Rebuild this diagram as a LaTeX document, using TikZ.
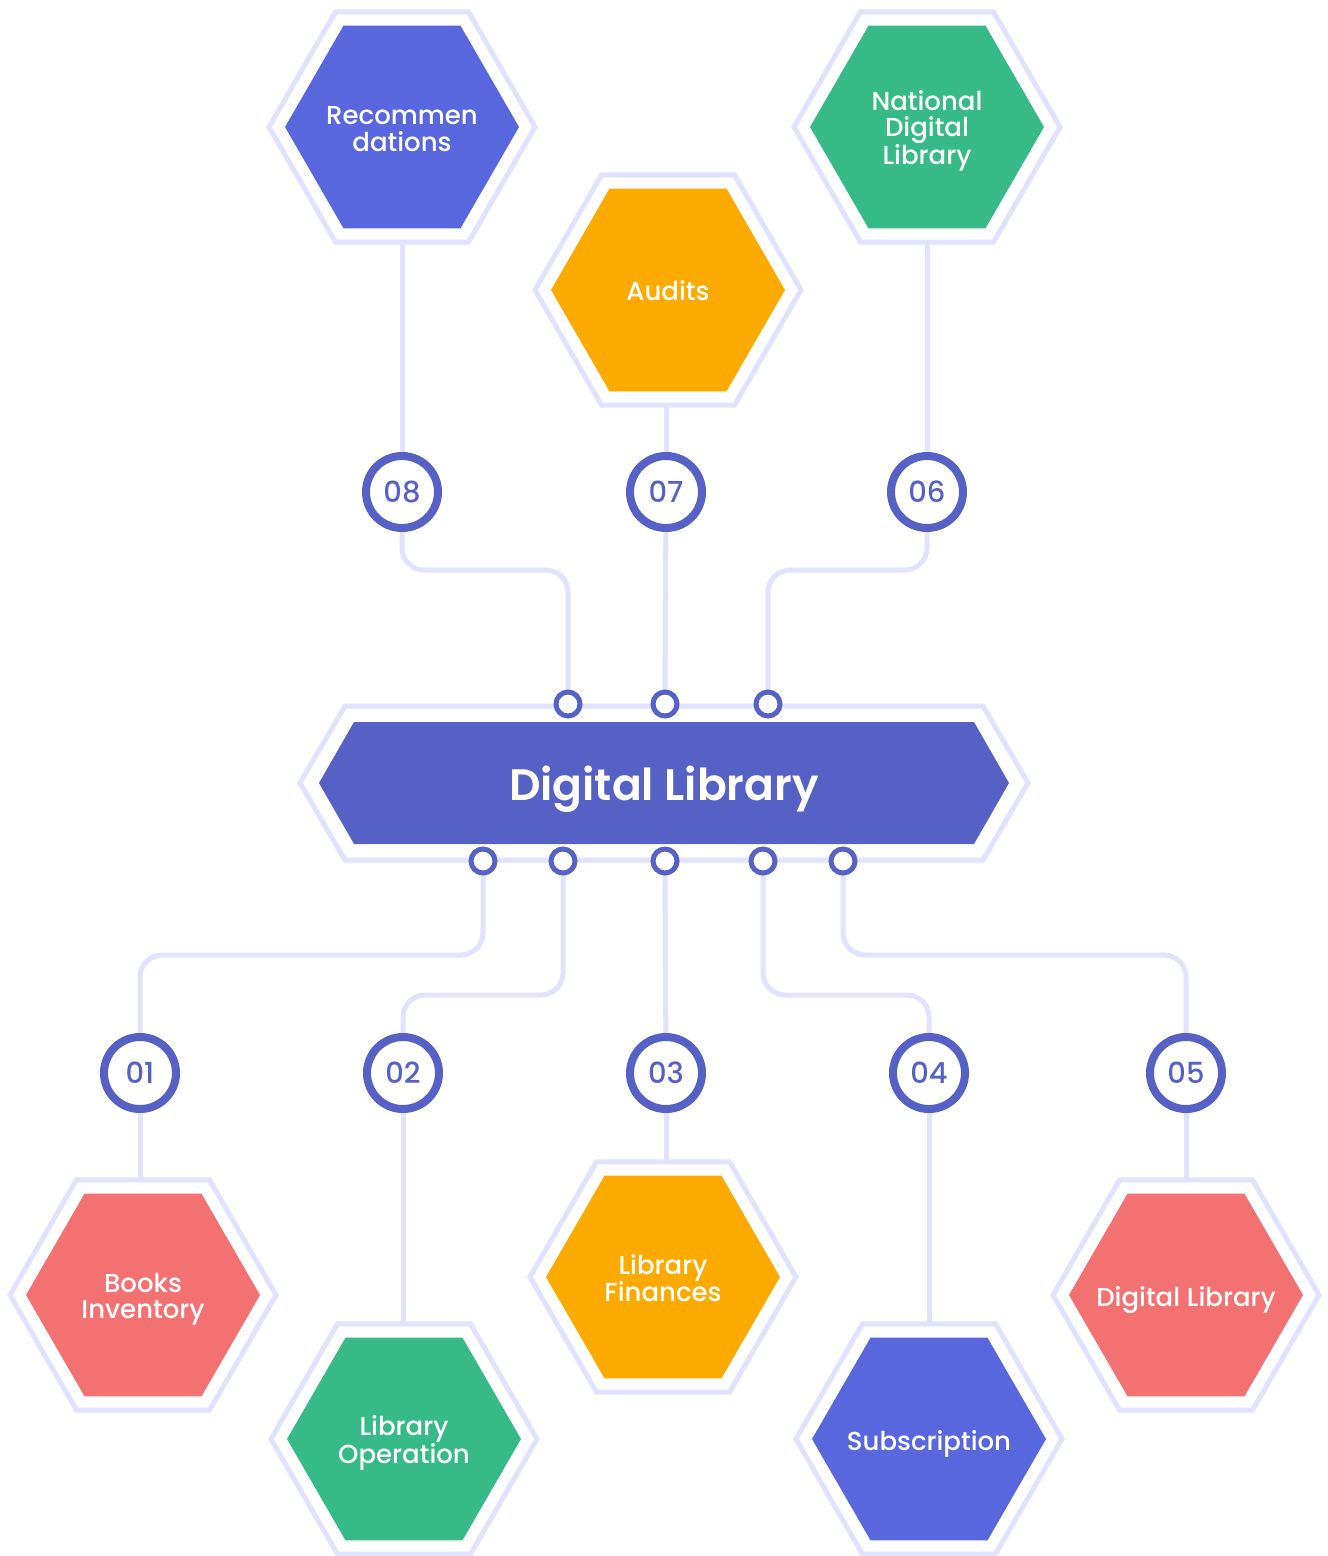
\documentclass[tikz,border=0pt]{standalone}
\usepackage{fontspec}
\setmainfont{Poppins}
\newfontfamily\popmed{Poppins Medium}
\newfontfamily\popsb{Poppins SemiBold}
\usetikzlibrary{shapes.geometric}
\definecolor{hexblue}{HTML}{5867DD}
\definecolor{mainblue}{HTML}{5561C4}
\definecolor{hexgreen}{HTML}{36BA87}
\definecolor{hexorange}{HTML}{FCAA00}
\definecolor{hexpink}{HTML}{F37171}
\definecolor{lav}{HTML}{E1E2FD}
\pgfdeclarelayer{bg}
\pgfsetlayers{bg,main}
\tikzset{
  hexout/.style={regular polygon, regular polygon sides=6, minimum size=266pt, inner sep=0pt, outer sep=0pt, draw=lav, line width=5pt, fill=white},
  hexin/.style={regular polygon, regular polygon sides=6, minimum size=234pt, inner sep=0pt, outer sep=0pt, fill=#1},
  hextext/.style={text=white, align=center, inner sep=0pt, font=\popmed\fontsize{26}{26.5}\selectfont},
  numc/.style={circle, minimum size=72pt, inner sep=0pt, outer sep=0pt, draw=mainblue, line width=8pt, fill=white, text=mainblue, font=\popmed\fontsize{29}{30}\selectfont},
  dotc/.style={circle, minimum size=24pt, inner sep=0pt, outer sep=0pt, draw=mainblue, line width=5pt, fill=white},
  conn/.style={draw=lav, line width=5pt, rounded corners=22pt},
}
\begin{document}
\begin{tikzpicture}[x=1pt,y=-1pt]
\useasboundingbox (0,0) rectangle (1328,1556);
% main node
\fill[white] (300,783) -- (345,706) -- (983,706) -- (1028,783) -- (983,860) -- (345,860) -- cycle;
\draw[lav, line width=5pt] (300,783) -- (345,706) -- (983,706) -- (1028,783) -- (983,860) -- (345,860) -- cycle;
\fill[mainblue] (319,783) -- (354,722) -- (974,722) -- (1009,783) -- (974,844) -- (354,844) -- cycle;
\node[text=white, font=\popsb\fontsize{44}{46}\selectfont] (main) at (664,789) {Digital Library};
% top hexagons
\node[hexout] (rec-o) at (402,127) {};
\node[hexin=hexblue] (rec) at (402,127) {};
\node[hextext] (rec-t) at (402,129) {Recommen\\dations};
\node[hexout] (aud-o) at (668,290) {};
\node[hexin=hexorange] (aud) at (668,290) {};
\node[hextext] (aud-t) at (668,291) {Audits};
\node[hexout] (nat-o) at (927,127) {};
\node[hexin=hexgreen] (nat) at (927,127) {};
\node[hextext] (nat-t) at (927,131) {National\\Digital\\Library};
% bottom hexagons
\node[hexout] (bk-o) at (143,1295) {};
\node[hexin=hexpink] (bk) at (143,1295) {};
\node[hextext] (bk-t) at (143,1299) {Books\\Inventory};
\node[hexout] (op-o) at (404,1439) {};
\node[hexin=hexgreen] (op) at (404,1439) {};
\node[hextext] (op-t) at (404,1443) {Library\\Operation};
\node[hexout] (fin-o) at (663,1277) {};
\node[hexin=hexorange] (fin) at (663,1277) {};
\node[hextext] (fin-t) at (663,1278) {Library\\Finances};
\node[hexout] (sub-o) at (929,1439) {};
\node[hexin=hexblue] (sub) at (929,1439) {};
\node[hextext] (sub-t) at (929,1444) {Subscription};
\node[hexout] (dl-o) at (1186,1295) {};
\node[hexin=hexpink] (dl) at (1186,1295) {};
\node[hextext] (dl-t) at (1186,1300) {Digital Library};
% number circles
\node[numc] (n08) at (402,492) {08};
\node[numc] (n07) at (666,492) {07};
\node[numc] (n06) at (927,492) {06};
\node[numc] (n01) at (140,1073) {01};
\node[numc] (n02) at (403,1073) {02};
\node[numc] (n03) at (666,1073) {03};
\node[numc] (n04) at (929,1073) {04};
\node[numc] (n05) at (1186,1073) {05};
% dots on main node
\node[dotc] (t1) at (568,704) {};
\node[dotc] (t2) at (665,704) {};
\node[dotc] (t3) at (768,704) {};
\node[dotc] (b1) at (483,861) {};
\node[dotc] (b2) at (563,861) {};
\node[dotc] (b3) at (665,861) {};
\node[dotc] (b4) at (763,861) {};
\node[dotc] (b5) at (843,861) {};
\coordinate (jt) at (0,570);
\coordinate (jb1) at (0,955);
\coordinate (jb2) at (0,995);
% connectors
\begin{pgfonlayer}{bg}
\draw[conn] (rec-o) -- (n08);
\draw[conn] (n08) -- (n08 |- jt) -- (t1 |- jt) -- (t1);
\draw[conn] (n07 |- aud-o) -- (n07);
\draw[conn] (n07) -- (t2);
\draw[conn] (nat-o) -- (n06);
\draw[conn] (n06) -- (n06 |- jt) -- (t3 |- jt) -- (t3);
\draw[conn] (b1) -- (b1 |- jb1) -- (n01 |- jb1) -- (n01);
\draw[conn] (b2) -- (b2 |- jb2) -- (n02 |- jb2) -- (n02);
\draw[conn] (b3) -- (n03);
\draw[conn] (b4) -- (b4 |- jb2) -- (n04 |- jb2) -- (n04);
\draw[conn] (b5) -- (b5 |- jb1) -- (n05 |- jb1) -- (n05);
\draw[conn] (n01) -- (n01 |- bk-o);
\draw[conn] (n02) -- (n02 |- op-o);
\draw[conn] (n03) -- (n03 |- fin-o);
\draw[conn] (n04) -- (n04 |- sub-o);
\draw[conn] (n05) -- (n05 |- dl-o);
\end{pgfonlayer}
\end{tikzpicture}
\end{document}
